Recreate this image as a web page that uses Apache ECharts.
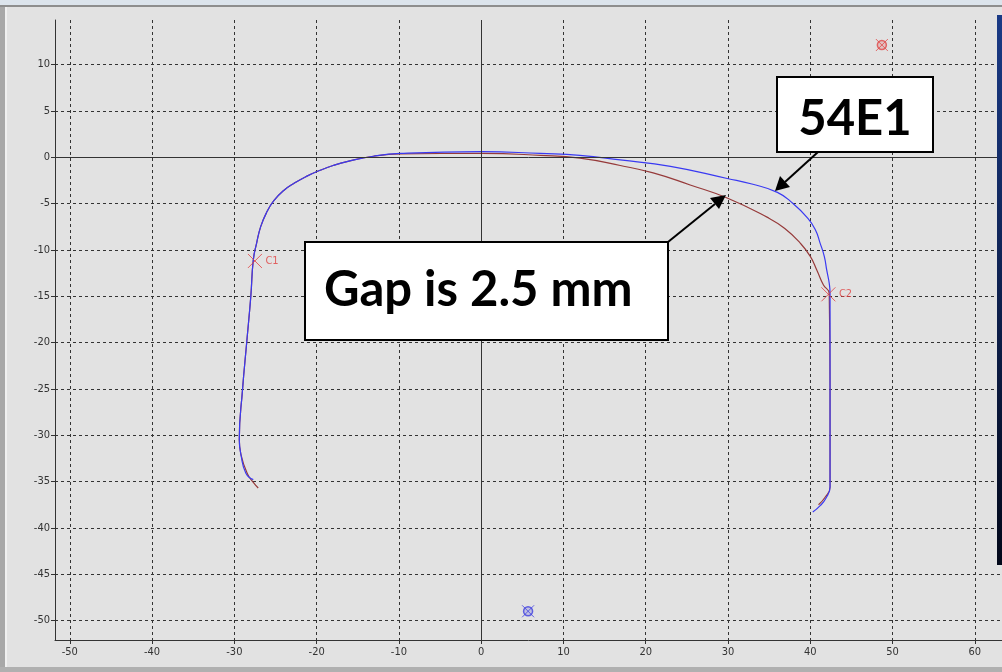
<!DOCTYPE html>
<html>
<head>
<meta charset="utf-8">
<script src="https://cdn.jsdelivr.net/npm/echarts@6/dist/echarts.min.js"></script>
<style>
html,body{margin:0;padding:0;background:#e2e2e2;}
#c{width:1002px;height:672px;}
</style>
</head>
<body>
<div id="c"></div>
<script>
// ---- data ----
const xTicks = [-50,-40,-30,-20,-10,0,10,20,30,40,50,60];
const yTicks = [-50,-45,-40,-35,-30,-25,-20,-15,-10,-5,0,5,10];

// design profile 54E1 (blue)
const profile54E1 = [
  [-27.7,-34.8],[-28.6,-34.1],[-29.2,-32.1],[-29.4,-30.5],[-29.0,-25],[-28.5,-20],
  [-28.0,-15],[-27.7,-11.1],[-27.3,-9.3],[-26.8,-7.5],[-26.1,-6.0],[-25.2,-4.7],
  [-24.0,-3.6],[-22.7,-2.8],[-21.3,-2.1],[-19.8,-1.5],[-18.0,-0.9],[-16.2,-0.45],
  [-13.1,0.1],[-9.8,0.4],[0,0.6],[7.2,0.4],[12,0.2],[16.9,-0.3],
  [23,-1.0],[29.9,-2.3],[32.9,-2.9],[36.0,-3.8],[37.9,-5.0],[39.6,-6.5],[40.6,-7.8],
  [41.2,-9.3],[41.7,-10.7],[42.0,-12.2],[42.3,-13.6],[42.4,-14.7],[42.4,-25],
  [42.4,-35.6],[41.9,-36.8],[41.2,-37.6],[40.3,-38.3]
];
// measured profile (brown)
const profileMeasured = [
  [-27.1,-35.7],[-27.7,-35.1],[-28.4,-34.2],[-29.2,-32.1],[-29.4,-30.5],[-29.0,-25],
  [-28.5,-20],[-28.0,-15],[-27.7,-11.1],[-27.3,-9.3],[-26.8,-7.5],[-26.1,-6.0],
  [-25.2,-4.7],[-24.0,-3.6],[-22.7,-2.8],[-21.3,-2.1],[-19.8,-1.5],[-18.0,-0.9],
  [-16.2,-0.45],[-13.1,0.1],[-9.8,0.35],[0,0.4],[7.2,0.2],[12,-0.1],
  [16.9,-0.9],[20.9,-1.7],[25.4,-3.0],[29.9,-4.4],[34.8,-6.5],[36.9,-7.7],[38.8,-9.3],
  [40.0,-10.7],[40.8,-12.2],[41.6,-13.8],[42.3,-14.7],[42.4,-25],[42.4,-35.6],
  [41.8,-36.7],[41.0,-37.5]
];
const contactPoints = [{name:'C1', value:[-27.5,-11.2]},{name:'C2', value:[42.2,-14.8]}];
const refPointRed = [[48.7,12.1]];
const refPointBlue = [[5.7,-49.0]];

const chart = echarts.init(document.getElementById('c'), null, {renderer:'canvas'});
const crossPath = 'path://M0,0L10,10M10,0L0,10';
const labelFont = {color:'#333', fontSize:11, fontFamily:'DejaVu Sans Condensed, DejaVu Sans, sans-serif'};

chart.setOption({
  backgroundColor:'#e2e2e2',
  animation:false,
  grid:{left:55, right:0, top:20, bottom:32, containLabel:false},
  xAxis:{
    type:'value', min:-51.8, max:63.3,
    axisLine:{show:true, onZero:false, lineStyle:{color:'#333', width:1}},
    axisTick:{show:true, length:4, customValues:xTicks, lineStyle:{color:'#333'}},
    axisLabel:Object.assign({customValues:xTicks, margin:7}, labelFont),
    splitLine:{show:true, lineStyle:{color:'#333', type:[3,3], width:1}}
  },
  yAxis:{
    type:'value', min:-52.1, max:14.8,
    axisLine:{show:true, onZero:false, lineStyle:{color:'#333', width:1}},
    axisTick:{show:true, length:4, customValues:yTicks, lineStyle:{color:'#333'}},
    axisLabel:Object.assign({customValues:yTicks, margin:5}, labelFont),
    splitLine:{show:true, lineStyle:{color:'#333', type:[3,3], width:1}}
  },
  series:[
    {
      type:'line', data:[], silent:true,
      markLine:{silent:true, symbol:'none', label:{show:false},
        lineStyle:{color:'#333', type:'solid', width:1},
        data:[{xAxis:0},{yAxis:0}]}
    },
    {
      name:'measured', type:'line', data:profileMeasured, smooth:0.5, showSymbol:false,
      lineStyle:{color:'#963a3a', width:1.2}, z:3
    },
    {
      name:'54E1', type:'line', data:profile54E1, smooth:0.5, showSymbol:false,
      lineStyle:{color:'#3a3af2', width:1.2}, z:4
    },
    {
      type:'scatter', data:contactPoints, symbol:crossPath, symbolSize:14,
      itemStyle:{color:'none', borderColor:'#e04040', borderWidth:1}, z:5,
      label:{show:true, position:'right', distance:1, formatter:'{b}', color:'#e04040', fontSize:11,
        fontFamily:'DejaVu Sans Condensed, sans-serif'}
    },
    {type:'scatter', data:refPointRed, symbol:'circle', symbolSize:9,
      itemStyle:{color:'rgba(224,72,72,0.25)', borderColor:'#e04848', borderWidth:1.5}, z:5},
    {type:'scatter', data:refPointRed, symbol:crossPath, symbolSize:12,
      itemStyle:{color:'none', borderColor:'#e04848', borderWidth:1}, z:6},
    {type:'scatter', data:refPointBlue, symbol:'circle', symbolSize:9,
      itemStyle:{color:'rgba(64,64,224,0.25)', borderColor:'#4040e0', borderWidth:1.5}, z:5},
    {type:'scatter', data:refPointBlue, symbol:crossPath, symbolSize:12,
      itemStyle:{color:'none', borderColor:'#4040e0', borderWidth:1}, z:6}
  ],
  graphic:[
    // window frame
    {type:'rect', shape:{x:0,y:0,width:1002,height:5}, style:{fill:'#dce4ec'}, z:100},
    {type:'rect', shape:{x:0,y:5,width:1002,height:2}, style:{fill:'#8e8e8e'}, z:100},
    {type:'rect', shape:{x:0,y:7,width:5,height:665}, style:{fill:'#a8a8a8'}, z:100},
    {type:'rect', shape:{x:5,y:7,width:2,height:665}, style:{fill:'#f0f0f0'}, z:100},
    {type:'rect', shape:{x:0,y:667,width:1002,height:5}, style:{fill:'#b0b0b0'}, z:100},
    {type:'rect', shape:{x:997,y:15,width:5,height:550},
      style:{fill:new echarts.graphic.LinearGradient(0,0,0,1,[{offset:0,color:'#1a3a86'},{offset:1,color:'#02081a'}])}, z:100},
    // 54E1 annotation
    {type:'rect', shape:{x:777,y:77,width:156,height:75}, style:{fill:'#ffffff', stroke:'#000', lineWidth:2}, z:110},
    {type:'text', x:855, y:119, style:{text:'54E1', fill:'#000', font:'bold 49px Lato, "Open Sans", sans-serif', align:'center', verticalAlign:'middle'}, z:111},
    {type:'line', shape:{x1:818,y1:152,x2:785,y2:182}, style:{stroke:'#000', lineWidth:2}, z:110},
    {type:'polygon', shape:{points:[[775,191],[780,176],[790,187]]}, style:{fill:'#000'}, z:110},
    // Gap annotation
    {type:'rect', shape:{x:305,y:242,width:363,height:98}, style:{fill:'#ffffff', stroke:'#000', lineWidth:2}, z:110},
    {type:'text', x:324, y:290, style:{text:'Gap is 2.5 mm', fill:'#000', font:'bold 49px Lato, "Open Sans", sans-serif', align:'left', verticalAlign:'middle'}, z:111},
    {type:'line', shape:{x1:668,y1:242,x2:715,y2:204}, style:{stroke:'#000', lineWidth:2}, z:110},
    {type:'polygon', shape:{points:[[726,195],[710,198],[719,209]]}, style:{fill:'#000'}, z:110}
  ]
});
</script>
</body>
</html>
